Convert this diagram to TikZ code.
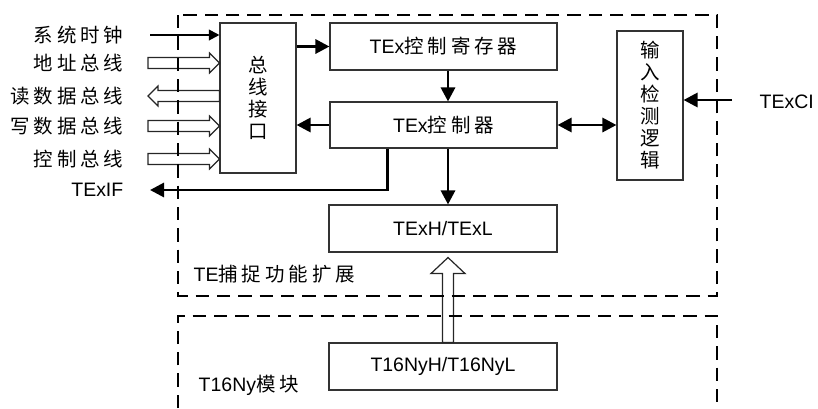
\documentclass[tikz,border=0pt]{standalone}
\usepackage{fontspec}
\setmainfont{Liberation Sans}
\newfontfamily\cjk[LetterSpace=20]{Noto Sans CJK SC}
\newfontfamily\cjkv{Noto Sans CJK SC}
\usetikzlibrary{arrows.meta, calc}

\tikzset{
  block/.style={draw=black!80, line width=0.8pt, rectangle, inner sep=0pt},
  vtext/.style={align=center, font=\fontsize{14.6pt}{16.5pt}\selectfont\cjkv},
  arr/.style={line width=2.2pt, -{Triangle[length=10.5pt, width=10.5pt]}},
  busline/.style={draw=black!85, line width=0.9pt, line join=miter},
  frame/.style={line width=2.2pt, dash pattern=on 10pt off 6pt}
}

% hollow bus arrow: from, to, half shaft, half head, head length
\newcommand\busarrow[5]{%
  \coordinate (hb) at ($(#2)!#5!(#1)$);
  \draw[busline] ($(#1)!#3!90:(#2)$) -- ($(hb)!#3!90:(#2)$) -- ($(hb)!#4!90:(#2)$) -- (#2)
    -- ($(hb)!#4!-90:(#2)$) -- ($(hb)!#3!-90:(#2)$) -- ($(#1)!#3!-90:(#2)$) -- cycle;}

\begin{document}
\begin{tikzpicture}[x=0.75pt, y=-0.75pt, font=\fontsize{14.6pt}{16.5pt}\selectfont]
  \useasboundingbox (0,0) rectangle (818,408);

  % boxes
  \node[block, vtext, minimum width=57pt, minimum height=112.5pt] (busif) at (258,98) {总\\线\\接\\口};
  \node[block, minimum width=170.25pt, minimum height=35.25pt] (reg) at (443.5,46.5) {TEx{\cjk 控制寄存器}};
  \node[block, minimum width=170.25pt, minimum height=34.5pt] (ctrl) at (443.5,125) {TEx{\cjk 控制器}};
  \node[block, vtext, minimum width=49.5pt, minimum height=111.75pt] (detect) at (650,105.5) {输\\入\\检\\测\\逻\\辑};
  \node[block, minimum width=171pt, minimum height=35.25pt] (texhl) at (443,228.5) {TExH/TExL};
  \node[block, minimum width=171pt, minimum height=35.25pt] (t16) at (443,366.5) {T16NyH/T16NyL};
  \coordinate (col) at (448,0);

  % left side signals
  \node[anchor=east] (clklbl) at (128,35) {\cjk 系统时钟};
  \node[anchor=east] (addrlbl) at (128,63) {\cjk 地址总线};
  \node[anchor=east] (rdlbl) at (128,96) {\cjk 读数据总线};
  \node[anchor=east] (wrlbl) at (128,126) {\cjk 写数据总线};
  \node[anchor=east] (ctllbl) at (128,159) {\cjk 控制总线};
  \node[anchor=east] (iflbl) at (128,190) {TExIF};

  \coordinate (clk) at (150,35);
  \draw[line width=1.5pt, -{Triangle[length=8pt, width=8pt]}] (clk) -- (clk -| busif.west);

  \coordinate (addrA) at (148,63);
  \coordinate (addrB) at (busif.west |- addrA);
  \busarrow{addrA}{addrB}{4.1pt}{7.5pt}{7.5pt}
  \coordinate (rdB) at (148,96);
  \coordinate (rdA) at (busif.west |- rdB);
  \busarrow{rdA}{rdB}{4.1pt}{7.5pt}{7.5pt}
  \coordinate (wrA) at (148,126);
  \coordinate (wrB) at (busif.west |- wrA);
  \busarrow{wrA}{wrB}{4.1pt}{7.5pt}{7.5pt}
  \coordinate (ctlA) at (148,159);
  \coordinate (ctlB) at (busif.west |- ctlA);
  \busarrow{ctlA}{ctlB}{4.1pt}{7.5pt}{7.5pt}

  \coordinate (texif) at (150,190);
  \draw[arr] (ctrl.south west) ++(58,0) |- (texif);

  % inner connections
  \draw[arr] (busif.east |- reg.west) -- (reg.west);
  \draw[arr] (ctrl.west) -- (ctrl.west -| busif.east);
  \draw[arr] (reg.south -| col) -- (ctrl.north -| col);
  \draw[arr] (ctrl.south -| col) -- (texhl.north -| col);
  \draw[line width=2.2pt, {Triangle[length=10.5pt, width=10.5pt]}-{Triangle[length=10.5pt, width=10.5pt]}] (ctrl.east) -- (ctrl.east -| detect.west);

  % capture input
  \coordinate (texci) at (732,100);
  \draw[arr] (texci) -- (texci -| detect.east);
  \node[anchor=west] (cilbl) at (755,102) {TExCI};

  % counter value into capture register
  \coordinate (capA) at (t16.north -| col);
  \coordinate (capB) at ($(texhl.south -| col)+(0,5)$);
  \busarrow{capA}{capB}{4.1pt}{12.75pt}{12pt}

  % module frames
  \draw[frame] (178,15) rectangle (717,296);
  \node[anchor=west] (telbl) at (189,274) {TE{\cjk 捕捉功能扩展}};
  \draw[frame] (178,408) -- (178,316) -- (717,316) -- (717,408);
  \node[anchor=west] (t16lbl) at (194,385) {T16Ny{\cjk 模块}};
\end{tikzpicture}
\end{document}
